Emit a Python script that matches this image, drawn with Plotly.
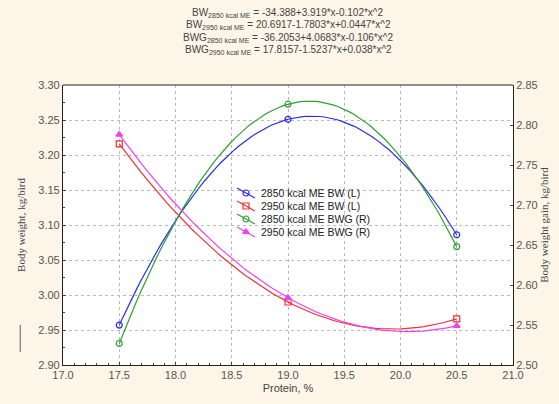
import numpy as np
import plotly.graph_objects as go

protein = [17.5, 19.0, 20.5]
bw_2850 = [2.957, 3.251, 3.086]
bw_2950 = [3.216, 2.990, 2.966]
bwg_2850 = [2.527, 2.826, 2.648]
bwg_2950 = [2.788, 2.584, 2.549]

series_names = ["2850 kcal ME BW (L)", "2950 kcal ME BW (L)",
                "2850 kcal ME BWG (R)", "2950 kcal ME BWG (R)"]
equations = [
    "BW<sub>2850 kcal ME</sub> = -34.388+3.919*x-0.102*x^2",
    "BW<sub>2950 kcal ME</sub> = 20.6917-1.7803*x+0.0447*x^2",
    "BWG<sub>2850 kcal ME</sub> = -36.2053+4.0683*x-0.106*x^2",
    "BWG<sub>2950 kcal ME</sub> = 17.8157-1.5237*x+0.038*x^2",
]

colors = ["#2b2bef", "#f03030", "#2f9f2f", "#f040f0"]
symbols = ["circle-open", "square-open", "circle-open", "triangle-up"]
datasets = [bw_2850, bw_2950, bwg_2850, bwg_2950]
axes = ["y", "y", "y2", "y2"]

PW, PH = 450, 280  # plot area size in px

fig = go.Figure()
xs = np.linspace(min(protein), max(protein), 80)
for i, (name, ys, c, s, ax) in enumerate(zip(series_names, datasets, colors, symbols, axes)):
    coef = np.polyfit(protein, ys, 2)
    fig.add_trace(go.Scatter(x=xs, y=np.polyval(coef, xs), mode="lines",
                             line=dict(color=c, width=1.2), yaxis=ax,
                             showlegend=False, hoverinfo="skip"))
    fig.add_trace(go.Scatter(x=protein, y=ys, mode="markers", name=name,
                             marker=dict(symbol=s, size=6, color=c,
                                         line=dict(color=c, width=1.2)),
                             yaxis=ax, showlegend=False))
    # manual compact legend (pixel-like overlay axes)
    yc = PH - (193 - 85) - i * 13
    fig.add_trace(go.Scatter(x=[174, 183, 192], y=[yc + 5, yc, yc - 5], mode="lines",
                             line=dict(color=c, width=1.2), xaxis="x2", yaxis="y3",
                             showlegend=False, hoverinfo="skip"))
    fig.add_trace(go.Scatter(x=[183], y=[yc], mode="markers",
                             marker=dict(symbol=s, size=6, color=c, line=dict(color=c, width=1.2)),
                             xaxis="x2", yaxis="y3", showlegend=False, hoverinfo="skip"))
    fig.add_annotation(text=name, xref="x2", yref="y3", x=196, y=yc, xanchor="left",
                       yanchor="middle", showarrow=False,
                       font=dict(family="Arial, Liberation Sans", size=10.5, color="#222222"))

tickfont = dict(family="Arial, Liberation Sans", size=11, color="#555555")
common = dict(showline=True, linecolor="#222222", linewidth=1.2, mirror=False,
              ticks="inside", ticklen=3, tickcolor="#444444",
              gridcolor="#bbbbbb", griddash="dot", gridwidth=1,
              zeroline=False, tickfont=tickfont)
titlefont_serif = dict(family="Liberation Serif, Times New Roman", size=11, color="#444444")

fig.update_layout(
    width=559, height=404,
    paper_bgcolor="#fcf5e8", plot_bgcolor="#ffffff",
    margin=dict(l=63, r=46, t=85, b=39, autoexpand=False),
    xaxis=dict(range=[17.0, 21.0], dtick=0.5, tickformat=".1f",
               minor=dict(dtick=0.1, ticks="inside", ticklen=2, tickcolor="#444444", showgrid=False),
               title=dict(text="Protein, %", font=dict(family="Arial, Liberation Sans", size=11, color="#444444"), standoff=4),
               **common),
    yaxis=dict(range=[2.90, 3.30], dtick=0.05, tickformat=".2f",
               minor=dict(dtick=0.025, ticks="inside", ticklen=2, tickcolor="#444444", showgrid=False),
               title=dict(text="Body weight, kg/bird", font=titlefont_serif, standoff=10),
               **common),
    yaxis2=dict(range=[2.50, 2.85], dtick=0.05, tickformat=".2f", overlaying="y", side="right",
                showgrid=False,
                title=dict(text="Body weight gain, kg/bird", font=titlefont_serif, standoff=0),
                **{k: v for k, v in common.items() if k not in ("gridcolor", "griddash", "gridwidth")}),
    xaxis2=dict(range=[0, PW], overlaying="x", visible=False, fixedrange=True),
    yaxis3=dict(range=[0, PH], overlaying="y", visible=False, fixedrange=True),
    showlegend=False,
)

# top frame line
fig.add_shape(type="line", xref="paper", yref="paper", x0=0, x1=1, y0=1, y1=1,
              line=dict(color="#222222", width=1.2))

for i, eq in enumerate(equations):
    fig.add_annotation(text=eq, xref="paper", yref="paper", x=0.5, y=1.0,
                       yshift=72 - i * 12.3, showarrow=False, xanchor="center", yanchor="middle",
                       font=dict(family="Arial, Liberation Sans", size=10, color="#444444"))

# small stray mark at left
fig.add_shape(type="line", xref="paper", yref="paper", x0=-0.095, x1=-0.095, y0=0.046, y1=0.143,
              line=dict(color="#777777", width=1.2))

fig.write_html("out.html", config={"displayModeBar": False},
               post_script="document.body.style.margin='0';")
